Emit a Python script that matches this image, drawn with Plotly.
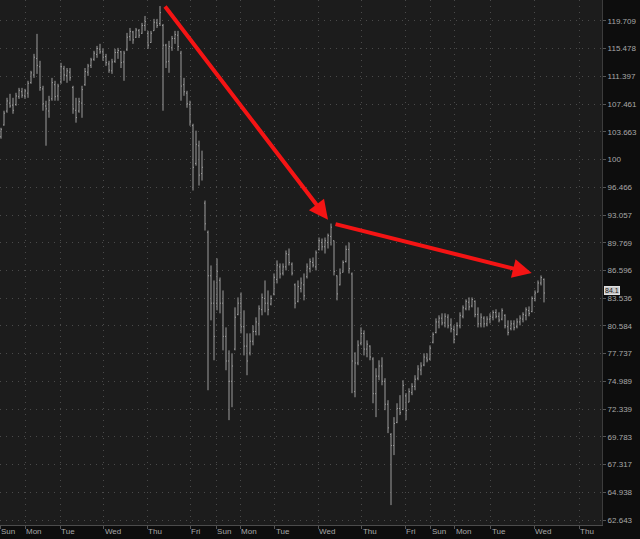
import math
import plotly.graph_objects as go

# ---- data ----
O = [103.0, 104.6, 106.5, 107.6, 107.3, 107.4, 108.5, 109.2, 108.6, 109.0,
     110.5, 111.6, 114.0, 112.8, 109.6, 107.2, 106.5, 108.2, 110.2, 108.6,
     110.6, 112.5, 111.5, 112.0, 109.8, 106.6, 106.5, 107.6, 110.2, 112.0,
     113.0, 113.9, 114.6, 115.4, 115.0, 114.3, 113.2, 112.2, 113.6, 114.9,
     115.0, 113.5, 115.3, 117.3, 118.0, 117.2, 118.2, 117.8, 119.0, 117.8,
     116.4, 118.2, 119.4, 119.3, 119.0, 116.0, 113.6, 115.6, 117.0, 117.5,
     114.8, 110.2, 109.0, 107.4, 104.5, 99.5, 101.8, 98.2, 94.5, 91.0,
     86.0, 83.0, 83.0, 85.5, 83.0, 79.5, 77.0, 75.0, 78.2, 81.8,
     83.0, 80.5, 78.5, 77.8, 79.0, 80.0, 80.8, 82.3, 83.5, 83.0,
     82.9, 84.0, 85.6, 87.0, 86.3, 87.0, 88.4, 87.3, 85.0, 83.2,
     84.6, 85.0, 85.9, 86.8, 87.5, 87.0, 89.0, 89.8, 89.3, 89.8,
     90.5, 90.0, 86.0, 85.0, 86.4, 87.6, 89.0, 86.2, 74.0, 76.8,
     78.8, 79.8, 78.2, 78.5, 77.2, 73.8, 75.5, 76.5, 75.0, 72.8,
     70.0, 69.0, 71.1, 72.4, 72.3, 73.6, 73.0, 73.9, 74.5, 75.3,
     76.1, 76.6, 77.3, 77.2, 78.9, 79.9, 81.0, 81.4, 80.9, 81.5,
     80.7, 80.2, 79.7, 80.6, 81.6, 82.4, 83.1, 82.7, 83.2, 81.8,
     80.8, 81.4, 80.8, 81.3, 81.5, 82.0, 81.6, 81.3, 81.7, 80.5,
     80.3, 80.8, 80.5, 81.0, 81.3, 81.7, 82.2, 82.1, 83.5, 84.2,
     85.2, 85.6]
H = [104.21, 106.54, 108.34, 108.90, 108.34, 109.05, 109.75, 109.75, 109.61, 110.76,
     112.20, 114.70, 117.71, 113.67, 110.04, 107.93, 108.62, 111.18, 110.76, 110.33,
     113.37, 112.93, 112.61, 112.61, 110.04, 108.34, 108.34, 110.04, 112.61, 113.22,
     114.11, 115.15, 115.89, 116.20, 115.44, 114.70, 113.67, 113.96, 115.44, 115.59,
     115.15, 115.15, 117.86, 118.62, 118.17, 118.62, 118.46, 119.40, 120.48, 118.17,
     118.17, 120.02, 120.02, 122.04, 119.24, 116.20, 116.65, 117.40, 118.17, 118.17,
     115.15, 111.18, 109.33, 107.93, 104.76, 103.82, 102.48, 101.16, 94.82, 91.20,
     87.16, 85.48, 87.96, 85.81, 84.38, 80.43, 78.07, 77.77, 82.55, 83.62,
     84.16, 82.23, 79.81, 79.81, 80.64, 81.49, 82.76, 84.05, 85.48, 84.38,
     83.84, 86.26, 87.73, 87.39, 87.39, 88.87, 89.10, 87.50, 85.15, 85.48,
     85.81, 86.26, 87.39, 87.96, 88.07, 88.87, 90.38, 90.26, 90.38, 90.84,
     92.03, 90.03, 86.04, 86.82, 87.73, 89.45, 89.79, 86.37, 77.87, 79.09,
     80.43, 80.12, 79.09, 78.58, 77.37, 76.28, 77.07, 77.37, 75.30, 73.18,
     70.12, 71.59, 72.89, 73.66, 75.10, 73.85, 74.32, 74.81, 75.59, 76.58,
     76.87, 77.77, 77.77, 78.58, 79.91, 81.38, 81.70, 81.91, 81.91, 81.81,
     81.38, 80.64, 80.96, 82.02, 82.76, 83.41, 83.62, 83.62, 83.30, 82.55,
     81.91, 81.60, 81.60, 81.91, 82.23, 82.34, 82.02, 82.44, 81.81, 81.17,
     81.17, 81.17, 81.38, 81.70, 82.02, 82.55, 82.65, 83.73, 84.38, 85.48,
     86.04, 85.70]
L = [102.74, 104.49, 106.26, 106.95, 106.12, 107.23, 108.19, 108.34, 108.19, 108.34,
     110.33, 111.18, 111.76, 109.33, 106.54, 101.81, 105.57, 107.93, 107.93, 107.93,
     110.33, 110.76, 110.47, 110.76, 106.12, 104.90, 106.26, 105.57, 110.04, 111.47,
     112.61, 113.67, 114.11, 114.70, 113.67, 112.93, 111.91, 111.76, 113.37, 113.96,
     112.61, 110.76, 115.15, 116.65, 116.20, 117.09, 117.09, 117.71, 118.17, 115.44,
     116.35, 118.17, 118.62, 118.93, 106.54, 112.61, 111.91, 115.15, 116.20, 115.15,
     107.93, 108.62, 106.95, 104.49, 96.06, 99.21, 96.68, 97.31, 91.20, 74.13,
     81.17, 77.07, 82.23, 81.91, 78.07, 76.08, 71.31, 72.52, 78.07, 81.70,
     79.81, 77.56, 75.59, 77.56, 78.58, 79.60, 79.60, 81.70, 82.02, 81.70,
     82.76, 83.84, 85.15, 85.70, 86.04, 86.60, 87.16, 86.04, 82.44, 83.08,
     84.16, 83.30, 85.70, 86.37, 86.94, 86.60, 88.87, 88.87, 88.52, 89.10,
     89.45, 86.04, 83.30, 84.93, 86.37, 87.50, 86.26, 73.85, 73.46, 76.58,
     78.58, 77.56, 77.37, 77.07, 72.89, 71.59, 75.10, 74.61, 72.24, 70.12,
     63.87, 68.15, 71.03, 71.78, 72.24, 71.31, 72.99, 73.66, 74.13, 75.10,
     75.59, 76.48, 76.87, 77.07, 78.78, 79.81, 80.33, 80.64, 80.43, 80.33,
     79.91, 78.78, 79.60, 80.33, 81.38, 82.23, 82.23, 82.55, 81.49, 80.43,
     80.43, 80.43, 80.54, 80.85, 81.17, 81.38, 80.96, 81.17, 80.33, 79.60,
     80.12, 80.12, 80.33, 80.64, 80.96, 81.17, 81.60, 82.02, 83.19, 84.16,
     84.93, 83.08]
C = [104.0, 106.2, 107.9, 107.2, 106.6, 108.6, 109.4, 108.7, 109.3, 110.4,
     111.9, 114.2, 113.0, 109.8, 107.5, 106.8, 108.0, 110.5, 108.5, 110.0,
     112.8, 111.6, 112.2, 111.2, 106.8, 105.6, 107.8, 109.5, 112.1, 112.9,
     113.8, 114.8, 115.5, 115.0, 114.2, 113.4, 112.3, 113.5, 114.9, 115.2,
     113.4, 114.8, 117.2, 118.1, 116.8, 118.3, 117.5, 119.0, 119.6, 116.0,
     117.8, 119.5, 119.0, 121.0, 116.0, 113.5, 115.8, 117.0, 117.6, 115.8,
     110.0, 109.2, 107.5, 105.0, 99.0, 102.0, 98.0, 99.0, 92.0, 86.0,
     83.0, 79.5, 86.5, 83.0, 79.5, 77.0, 75.0, 76.5, 81.5, 83.0,
     80.5, 78.5, 77.0, 79.0, 80.0, 81.0, 82.4, 83.6, 83.0, 82.3,
     83.5, 85.8, 87.2, 86.2, 87.0, 88.5, 87.5, 86.3, 83.0, 84.8,
     85.2, 83.8, 87.0, 87.6, 87.2, 88.6, 90.0, 89.3, 90.0, 90.6,
     91.6, 86.5, 84.0, 86.3, 87.5, 89.0, 86.8, 77.0, 76.8, 78.6,
     79.8, 78.2, 78.7, 77.4, 73.8, 75.5, 76.5, 75.0, 72.8, 70.6,
     69.0, 71.0, 72.4, 72.0, 74.6, 72.2, 74.0, 74.5, 75.2, 76.2,
     76.5, 77.4, 77.1, 78.3, 79.7, 81.0, 81.4, 80.9, 81.6, 80.6,
     80.3, 79.2, 80.6, 81.7, 82.5, 83.2, 82.6, 83.4, 81.8, 80.8,
     81.5, 80.8, 81.3, 81.6, 82.0, 81.6, 81.2, 82.2, 80.6, 79.9,
     80.8, 80.4, 81.0, 81.4, 81.8, 82.3, 81.9, 83.5, 84.1, 85.2,
     85.8, 84.1]

day_names = ["Sun", "Mon", "Tue", "Wed", "Thu", "Fri", "Sun", "Mon", "Tue",
             "Wed", "Thu", "Fri", "Sun", "Mon", "Tue", "Wed", "Thu"]
day_starts = [-0.33, 8.0, 19.7, 34.3, 48.7, 63.0, 71.7, 79.7, 91.3,
              105.7, 120.3, 134.7, 143.3, 151.3, 163.3, 177.7, 192.7]

y_ticks = [62.643, 64.938, 67.317, 69.783, 72.339, 74.989, 77.737, 80.584,
           83.536, 86.596, 89.769, 93.057, 96.466, 100, 103.663, 107.461,
           111.397, 115.478, 119.709]
y_tick_text = ["62.643", "64.938", "67.317", "69.783", "72.339", "74.989",
               "77.737", "80.584", "83.536", "86.596", "89.769", "93.057",
               "96.466", "100", "103.663", "107.461", "111.397", "115.478",
               "119.709"]

# arrow endpoints: (bar position, price)
arrow1_tail = (54.3, 122.2)
arrow1_head = (109.0, 92.5)
arrow2_tail = (111.0, 92.0)
arrow2_head = (176.9, 86.3)

bars = list(range(len(C)))

BAR = "#9c9c9c"
fig = go.Figure(go.Ohlc(
    x=bars, open=O, high=H, low=L, close=C,
    increasing=dict(line=dict(color=BAR, width=1)),
    decreasing=dict(line=dict(color=BAR, width=1)),
    tickwidth=0.33, hoverinfo="skip",
))

FONT = "Liberation Sans, Arial, sans-serif"
GRID = "#4a4a4a"

annotations = []
for tail, head in [(arrow1_tail, arrow1_head), (arrow2_tail, arrow2_head)]:
    annotations.append(dict(
        x=head[0], y=math.log10(head[1]), xref="x", yref="y",
        ax=tail[0], ay=math.log10(tail[1]), axref="x", ayref="y",
        text="", showarrow=True, arrowhead=2, arrowsize=0.95,
        arrowwidth=4, arrowcolor="#f41414",
    ))

# last price bubble
annotations.append(dict(
    x=1.0, xref="paper", y=math.log10(C[-1]), yref="y",
    xanchor="left", yanchor="middle", xshift=2, yshift=3,
    text=f"{C[-1]}", showarrow=False,
    font=dict(family=FONT, size=7, color="#1a1a1a"),
    bgcolor="#c9c9c9", bordercolor="#e0e0e0", borderwidth=1, borderpad=0,
))

fig.update_layout(
    width=640, height=539,
    margin=dict(l=0, r=38, t=0, b=14, autoexpand=False),
    paper_bgcolor="#0d0d0d", plot_bgcolor="#1c1c1c",
    showlegend=False,
    annotations=annotations,
    xaxis=dict(
        range=[-0.333, 200.33], automargin=False,
        tickvals=day_starts, ticktext=day_names,
        ticklabelposition="outside right", ticklabelstandoff=-2,
        ticks="outside", ticklen=3, tickcolor="#555555",
        tickfont=dict(family=FONT, size=8, color="#a8a8a8"),
        showgrid=True, gridcolor=GRID, griddash="1px,5px", gridwidth=1,
        showline=True, linecolor="#4c4c4c", linewidth=1,
        zeroline=False, rangeslider=dict(visible=False), fixedrange=True,
    ),
    yaxis=dict(
        type="log", side="right", automargin=False,
        range=[math.log10(62.24), math.log10(123.0)],
        tickvals=y_ticks, ticktext=y_tick_text,
        ticks="outside", ticklen=3, tickcolor="#555555",
        tickfont=dict(family=FONT, size=8, color="#a8a8a8"),
        showgrid=True, gridcolor=GRID, griddash="1px,5px", gridwidth=1,
        showline=True, linecolor="#3c3c3c", linewidth=1,
        zeroline=False, fixedrange=True,
    ),
)

fig.write_html(
    "out.html",
    config={"displayModeBar": False},
    post_script="document.body.style.margin='0';document.body.style.background='#0d0d0d';",
)
